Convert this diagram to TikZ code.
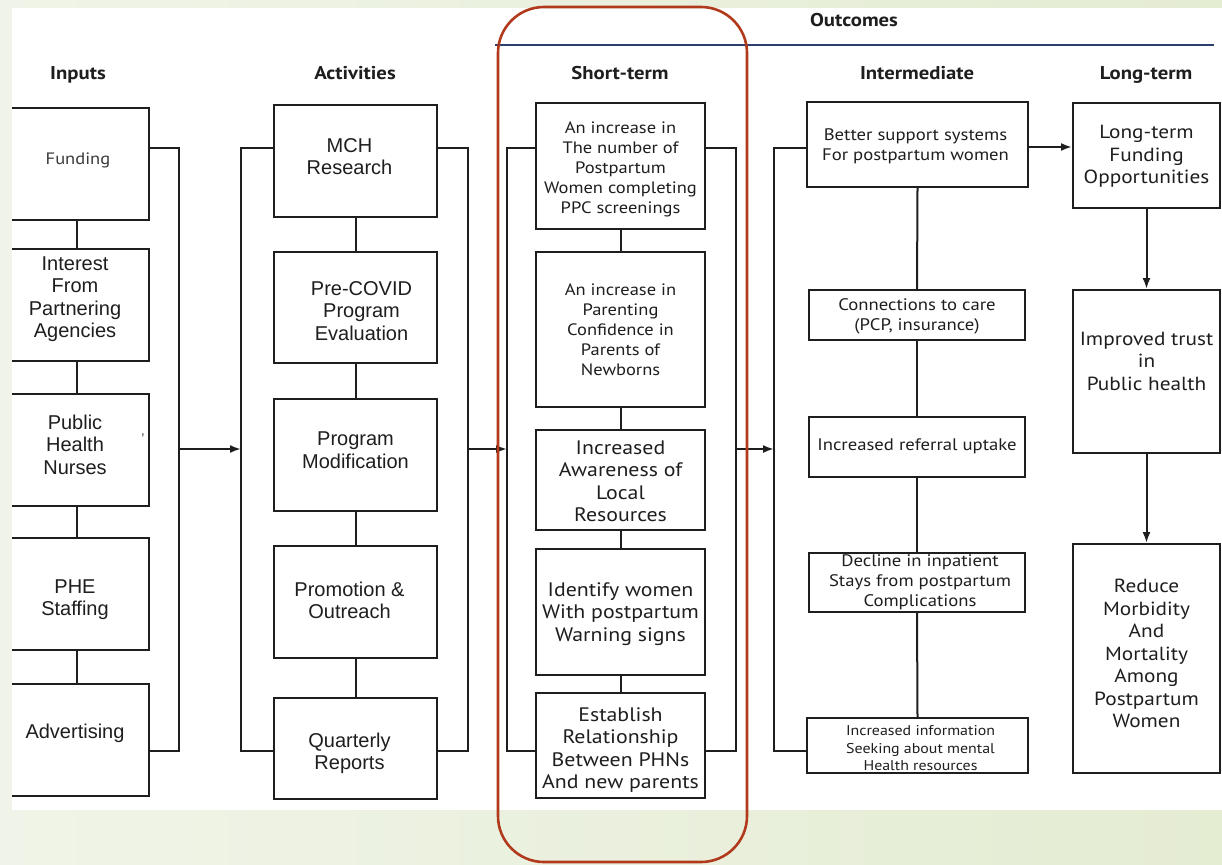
\documentclass[tikz,border=0pt]{standalone}
\usepackage{fontspec}
\setmainfont{Liberation Sans}
\newfontfamily\pts[FakeStretch=1.12]{PT Sans}
\usetikzlibrary{arrows.meta}
\definecolor{pageL}{HTML}{F0F4E8}
\definecolor{pageR}{HTML}{E4ECD2}
\definecolor{boxc}{HTML}{1E1E1E}
\definecolor{redc}{HTML}{B23A1C}
\definecolor{bluec}{HTML}{2C3F6C}
\definecolor{greyt}{HTML}{3A3A3A}
\begin{document}
\begin{tikzpicture}[x=1pt,y=-1pt,
  box/.style={draw=boxc, line width=2pt, fill=white, inner sep=0pt},
  sz/.style n args={2}{minimum width=#1pt, minimum height=#2pt},
  tx/.style={align=center, inner sep=0pt, text=boxc},
  hdr/.style={font=\pts\bfseries\fontsize{18.5}{20}\selectfont, inner sep=0pt, text=boxc, anchor=base},
  lnk/.style={draw=boxc, line width=2pt},
  arr/.style={lnk, -{Latex[length=11pt,width=8pt]}},
  fa/.style={tx, font=\fontsize{20}{22.5}\selectfont},
  fs/.style={tx, font=\pts\fontsize{16.5}{20}\selectfont},
  fb/.style={tx, font=\pts\fontsize{19.5}{22.5}\selectfont},
  fm/.style={tx, font=\pts\fontsize{16.7}{20}\selectfont},
  fl/.style={tx, font=\pts\fontsize{19}{22.5}\selectfont}]
\useasboundingbox (0,0) rectangle (1222,864);
\shade[left color=pageL, right color=pageR] (0,0) rectangle (1222,864);
\fill[white] (12,8) rectangle (1222,810);

% headers
\node[hdr] (hout) at (854,27) {Outcomes};
\draw[draw=bluec, line width=1.6pt] (495,45) -- (1214,45);
\node[hdr] (hin) at (78,79.5) {Inputs};
\node[hdr] (hact) at (355,79.5) {Activities};
\node[hdr] (hst) at (620,79.5) {Short-term};
\node[hdr] (hmid) at (917,79.5) {Intermediate};
\node[hdr] (hlt) at (1146,79.5) {Long-term};

% inputs (left edge cut by panel)
\begin{scope}
\clip (12,8) rectangle (1222,810);
\node[box, sz={144}{112}, label={[tx, font=\pts\fontsize{16.5}{20}\selectfont, text=greyt, yshift=4pt, xshift=1pt]center:Funding}] (in1) at (77,164) {};
\node[box, sz={144}{112}, label={[fa, yshift=5.75pt, xshift=-2pt]center:{Interest\\From\\Partnering\\Agencies}}] (in2) at (77,305) {};
\node[box, sz={144}{112}, label={[fa, yshift=5.25pt, xshift=-2pt]center:{Public\\Health\\Nurses}}] (in3) at (77,450) {};
\node[box, sz={144}{112}, label={[fa, yshift=-5.5pt, xshift=-2pt]center:{PHE\\Staffing}}] (in4) at (77,594) {};
\node[box, sz={144}{112}, label={[fa, yshift=6.25pt, xshift=-2pt]center:Advertising}] (in5) at (77,740) {};
\end{scope}
\node[font=\fontsize{14}{14}\selectfont, text=greyt, inner sep=0pt] (apos) at (143,439) {'};
\draw[lnk] (in1.south) -- (in2.north);
\draw[lnk] (in2.south) -- (in3.north);
\draw[lnk] (in3.south) -- (in4.north);
\draw[lnk] (in4.south) -- (in5.north);
\coordinate (iT) at (179,148);
\coordinate (iB) at (179,751);
\coordinate (iM) at (179,449);
\draw[lnk] (in1.east |- iT) -- (iT) -- (iB) -- (in5.east |- iB);

% activities
\node[box, sz={163}{112}, label={[fa, yshift=4.25pt, xshift=-6pt]center:{MCH\\Research}}] (a1) at (355.5,161) {};
\node[box, sz={163}{111}, label={[fa, yshift=-3.5pt, xshift=6pt]center:{Pre-COVID\\Program\\Evaluation}}] (a2) at (355.5,307.5) {};
\node[box, sz={163}{112}, label={[fa, yshift=4.75pt]center:{Program\\Modification}}] (a3) at (355.5,455) {};
\node[box, sz={163}{112}, label={[fa, yshift=1.75pt, xshift=-6pt]center:{Promotion \&\\Outreach}}] (a4) at (355.5,602) {};
\node[box, sz={163}{101}, label={[fa, yshift=-5pt, xshift=-6pt]center:{Quarterly\\Reports}}] (a5) at (355.5,748.5) {};
\draw[lnk] (a1.south) -- (a2.north);
\draw[lnk] (a2.south) -- (a3.north);
\draw[lnk] (a3.south) -- (a4.north);
\draw[lnk] (a4.south) -- (a5.north);
\coordinate (aLT) at (241,148);
\coordinate (aLB) at (241,751);
\coordinate (aLM) at (241,449);
\coordinate (aRT) at (468,148);
\coordinate (aRB) at (468,751);
\coordinate (aRM) at (468,449);
\draw[lnk] (a1.west |- aLT) -- (aLT) -- (aLB) -- (a5.west |- aLB);
\draw[lnk] (a1.east |- aRT) -- (aRT) -- (aRB) -- (a5.east |- aRB);
\draw[arr] (iM) -- (aLM);

% short-term
\node[box, sz={169}{126}, label={[fs, yshift=-3.5pt]center:{An increase in\\The number of\\Postpartum\\Women completing\\PPC screenings}}] (s1) at (620.5,166) {};
\node[box, sz={169}{155}, label={[fs]center:{An increase in\\Parenting\\Confidence in\\Parents of\\Newborns}}] (s2) at (620.5,329.5) {};
\node[box, sz={169}{100}, label={[fb, yshift=-1.5pt]center:{Increased\\Awareness of\\Local\\Resources}}] (s3) at (620.5,480) {};
\node[box, sz={169}{126}, label={[fb, yshift=-2pt]center:{Identify women\\With postpartum\\Warning signs}}] (s4) at (620.5,612) {};
\node[box, sz={169}{105}, label={[fb, yshift=-4.5pt]center:{Establish\\Relationship\\Between PHNs\\And new parents}}] (s5) at (620.5,745.5) {};
\draw[lnk] (s1.south) -- (s2.north);
\draw[lnk] (s2.south) -- (s3.north);
\draw[lnk] (s3.south) -- (s4.north);
\draw[lnk] (s4.south) -- (s5.north);
\coordinate (sLT) at (507,148);
\coordinate (sLB) at (507,751);
\coordinate (sLM) at (507,449);
\coordinate (sRT) at (736,148);
\coordinate (sRB) at (736,751);
\coordinate (sRM) at (736,449);
\draw[lnk] (s1.west |- sLT) -- (sLT) -- (sLB) -- (s5.west |- sLB);
\draw[lnk] (s1.east |- sRT) -- (sRT) -- (sRB) -- (s5.east |- sRB);
\draw[arr] (aRM) -- (sLM);

% intermediate
\node[box, sz={221}{85}, label={[fm, yshift=-2pt, xshift=-2pt]center:{Better support systems\\For postpartum women}}] (m1) at (917.5,144.5) {};
\node[box, sz={216}{50}, label={[fm, yshift=-1pt]center:{Connections to care\\(PCP, insurance)}}] (m2) at (917,315) {};
\node[box, sz={216}{60}, label={[fm, yshift=1pt]center:{Increased referral uptake}}] (m3) at (917,447) {};
\node[box, sz={216}{59}, label={[fm, xshift=3pt]center:{Decline in inpatient\\Stays from postpartum\\Complications}}] (m4) at (917,582.5) {};
\node[box, sz={221}{55}, label={[tx, font=\pts\fontsize{14.2}{17.5}\selectfont, yshift=-3pt, xshift=3pt]center:{Increased information\\Seeking about mental\\Health resources}}] (m5) at (917.5,745.5) {};
\draw[lnk] (m1.south) -- (m2.north);
\draw[lnk] (m2.south) -- (m3.north);
\draw[lnk] (m3.south) -- (m4.north);
\draw[lnk] (m4.south) -- (m5.north);
\coordinate (mLT) at (774,148);
\coordinate (mLB) at (774,751);
\coordinate (mLM) at (774,449);
\draw[lnk] (m1.west |- mLT) -- (mLT) -- (mLB) -- (m5.west |- mLB);
\draw[arr] (sRM) -- (mLM);

% long-term
\node[box, sz={147}{105}, label={[fl, yshift=-1pt]center:{Long-term\\Funding\\Opportunities}}] (l1) at (1146.5,155.5) {};
\node[box, sz={147}{163}, label={[fl, yshift=10.25pt]center:{Improved trust\\in\\Public health}}] (l2) at (1146.5,371.5) {};
\node[box, sz={147}{229}, label={[fl, yshift=4.75pt]center:{Reduce\\Morbidity\\And\\Mortality\\Among\\Postpartum\\Women}}] (l3) at (1146.5,658.5) {};
\draw[arr] (m1.east |- 0,147) -- (l1.west |- 0,147);
\draw[arr] (l1.south) -- (l2.north);
\draw[arr] (l2.south) -- (l3.north);

% highlight
\draw[draw=redc, line width=2.6pt, rounded corners=46pt] (498,7) rectangle (747,862);
\end{tikzpicture}
\end{document}
